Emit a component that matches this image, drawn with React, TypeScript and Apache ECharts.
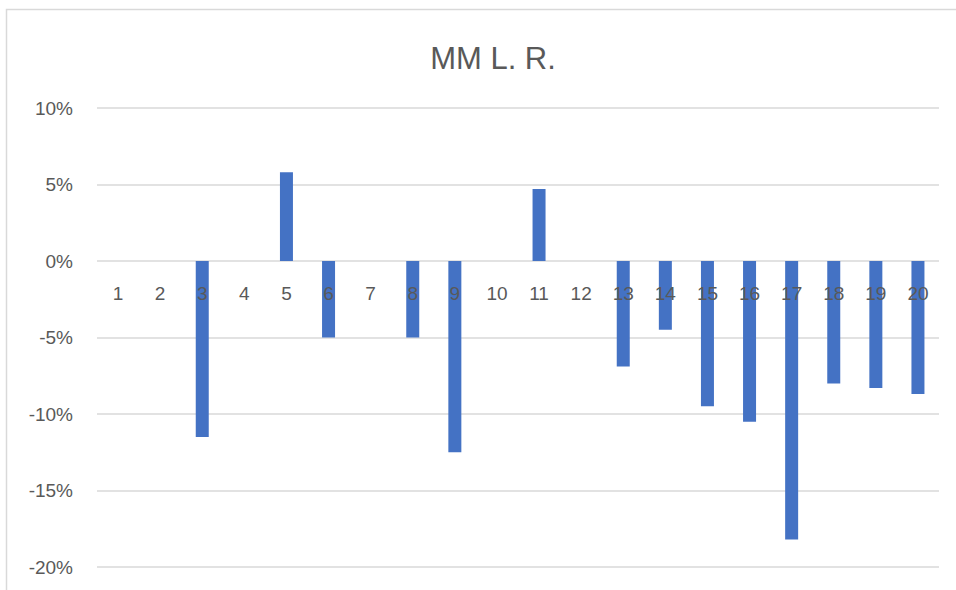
import React, { useEffect, useRef } from "react";
import * as echarts from "echarts";

const categories = ["1","2","3","4","5","6","7","8","9","10","11","12","13","14","15","16","17","18","19","20"];
const values = [0, 0, -11.5, 0, 5.8, -5.0, 0, -5.0, -12.5, 0, 4.7, 0, -6.9, -4.5, -9.5, -10.5, -18.2, -8.0, -8.3, -8.7];
const titleText = "MM L. R.";

export default function App() {
  const ref = useRef<HTMLDivElement>(null);
  useEffect(() => {
    if (!ref.current) return;
    const chart = echarts.init(ref.current, undefined, { renderer: "svg" });
    const font = "'Liberation Sans', Arial, sans-serif";
    const gridTop = 108;
    const gridBottomPx = 567;
    const yMin = -20;
    const yMax = 10;
    const zeroPx = gridTop + ((yMax - 0) / (yMax - yMin)) * (gridBottomPx - gridTop);
    chart.setOption({
      animation: false,
      backgroundColor: "#ffffff",
      title: {
        text: titleText,
        left: 488,
        textAlign: "center",
        top: 38,
        textStyle: { fontFamily: font, fontSize: 31, fontWeight: "normal", color: "#595959" },
      },
      graphic: [
        {
          type: "rect",
          shape: { x: 6.5, y: 9.5, width: 1200, height: 1200 },
          style: { fill: "none", stroke: "#d9d9d9", lineWidth: 1.5 },
          silent: true,
          z: -1,
        },
      ],
      grid: { left: 97, right: 17, top: gridTop, bottom: 590 - gridBottomPx, containLabel: false, outerBoundsMode: "none" },
      xAxis: {
        type: "category",
        data: categories,
        z: 10,
        offset: -(gridBottomPx - zeroPx),
        axisLine: { show: false, onZero: false },
        axisTick: { show: false },
        axisLabel: { margin: 23, fontFamily: font, fontSize: 19, color: "#595959" },
      },
      yAxis: {
        type: "value",
        min: yMin,
        max: yMax,
        interval: 5,
        axisLine: { show: false },
        axisTick: { show: false },
        axisLabel: { margin: 24, fontFamily: font, fontSize: 19, color: "#595959", formatter: (v: number) => `${v}%` },
        splitLine: { lineStyle: { color: "#d9d9d9", width: 1.5 } },
      },
      series: [
        {
          type: "bar",
          data: values,
          barWidth: 13,
          itemStyle: { color: "#4472c4" },
        },
      ],
    });
    return () => chart.dispose();
  }, []);
  return <div ref={ref} style={{ position: "fixed", left: 0, top: 0, width: 956, height: 590 }} />;
}
